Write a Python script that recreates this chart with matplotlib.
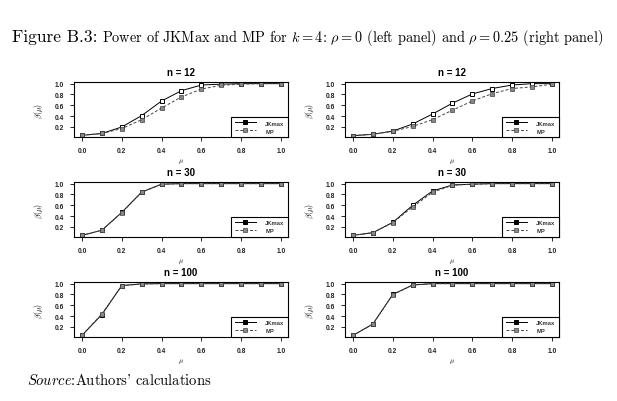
import matplotlib
matplotlib.use("Agg")
import matplotlib.pyplot as plt

plt.rcParams['mathtext.fontset'] = 'cm'

mu = [0.0, 0.1, 0.2, 0.3, 0.4, 0.5, 0.6, 0.7, 0.8, 0.9, 1.0]

# rho = 0 (left panels)
jk_l12 = [0.046, 0.08, 0.20, 0.41, 0.68, 0.87, 0.975, 0.99, 1.0, 1.0, 1.0]
mp_l12 = [0.046, 0.08, 0.17, 0.335, 0.55, 0.755, 0.90, 0.97, 0.99, 1.0, 1.0]
jk_l30 = [0.045, 0.14, 0.47, 0.845, 0.99, 1.0, 1.0, 1.0, 1.0, 1.0, 1.0]
mp_l30 = [0.045, 0.14, 0.465, 0.84, 0.99, 1.0, 1.0, 1.0, 1.0, 1.0, 1.0]
jk_l100 = [0.045, 0.43, 0.965, 0.995, 1.0, 1.0, 1.0, 1.0, 1.0, 1.0, 1.0]
mp_l100 = [0.045, 0.44, 0.96, 0.995, 1.0, 1.0, 1.0, 1.0, 1.0, 1.0, 1.0]

# rho = 0.25 (right panels)
jk_r12 = [0.04, 0.065, 0.125, 0.255, 0.44, 0.64, 0.81, 0.91, 0.975, 1.0, 1.0]
mp_r12 = [0.04, 0.065, 0.12, 0.21, 0.335, 0.51, 0.68, 0.815, 0.91, 0.94, 0.99]
jk_r30 = [0.045, 0.095, 0.285, 0.60, 0.865, 0.975, 0.99, 1.0, 1.0, 1.0, 1.0]
mp_r30 = [0.045, 0.095, 0.28, 0.57, 0.84, 0.97, 0.99, 1.0, 1.0, 1.0, 1.0]
jk_r100 = [0.045, 0.255, 0.80, 0.975, 1.0, 1.0, 1.0, 1.0, 1.0, 1.0, 1.0]
mp_r100 = [0.045, 0.25, 0.795, 0.975, 1.0, 1.0, 1.0, 1.0, 1.0, 1.0, 1.0]

titles = ["n = 12", "n = 30", "n = 100"]
xticks = [0.0, 0.2, 0.4, 0.6, 0.8, 1.0]
yticks = [0.2, 0.4, 0.6, 0.8, 1.0]
legend_labels = ["JKmax", "MP"]

panels = [
    [(jk_l12, mp_l12), (jk_r12, mp_r12)],
    [(jk_l30, mp_l30), (jk_r30, mp_r30)],
    [(jk_l100, mp_l100), (jk_r100, mp_r100)],
]

W, H = 617, 402
fig = plt.figure(figsize=(W / 100, H / 100), dpi=100)

col_left = [74, 345]
row_top = [83, 183, 283]
aw, ah = 214, 55
sans = 'Liberation Sans'

for r in range(3):
    for c in range(2):
        jk, mp = panels[r][c]
        x0 = col_left[c]
        y0 = row_top[r]
        ax = fig.add_axes([x0 / W, 1 - (y0 + ah) / H, aw / W, ah / H])
        ax.plot(mu, jk, '-', color='black', lw=0.7, marker='s', ms=3.2,
                mfc='white', mec='black', mew=0.7, label=legend_labels[0])
        ax.plot(mu, mp, '--', color='#444444', lw=0.7, marker='s', ms=2.2,
                mfc='#888888', mec='#444444', mew=0.5, label=legend_labels[1],
                dashes=(3, 2))
        ax.set_xlim(-0.04, 1.035)
        ax.set_ylim(0.015, 1.03)
        ax.set_xticks(xticks)
        ax.set_yticks(yticks)
        ax.set_xticklabels([f"{t:.1f}" for t in xticks], fontsize=4.8,
                           fontweight='bold', family=sans, color='#222222')
        ax.set_yticklabels([f"{t:.1f}" for t in yticks], fontsize=4.8,
                           fontweight='bold', family=sans, color='#222222')
        ax.tick_params(length=3, width=0.6, pad=4)
        for s in ax.spines.values():
            s.set_linewidth(0.8)
        ax.set_title(titles[r], fontsize=7, fontweight='bold', family=sans,
                     pad=5)
        ax.set_xlabel(r"$\mu$", fontsize=5, labelpad=2)
        ax.set_ylabel(r"$\beta(\mu)$", fontsize=5.5, labelpad=7)
        leg = ax.legend(loc='lower right', borderaxespad=0, fancybox=False,
                        edgecolor='black', framealpha=1,
                        handlelength=3.6, handletextpad=1.6,
                        borderpad=0.6, labelspacing=0.5,
                        prop={'family': sans, 'weight': 'bold', 'size': 4.2})
        leg.get_frame().set_linewidth(0.8)
        leg.legend_handles[0].set_markerfacecolor('black')
        for t in leg.get_texts():
            t.set_color('#333333')

fig.text(12 / W, 1 - 37 / H, "Figure B.3:", family='cmr10', fontsize=12.5,
         ha='left', va='center')
fig.text(102 / W, 1 - 37.5 / H,
         r"Power of JKMax and MP for $k=4$: $\rho=0$ (left panel) and $\rho=0.25$ (right panel)",
         family='cmr10', fontsize=10.35, ha='left', va='center')
fig.text(27 / W, 1 - 381 / H, r"$\mathit{Source}$:Authors' calculations",
         family='cmr10', fontsize=10.5, ha='left', va='center')

fig.savefig("out.png", dpi=100)
